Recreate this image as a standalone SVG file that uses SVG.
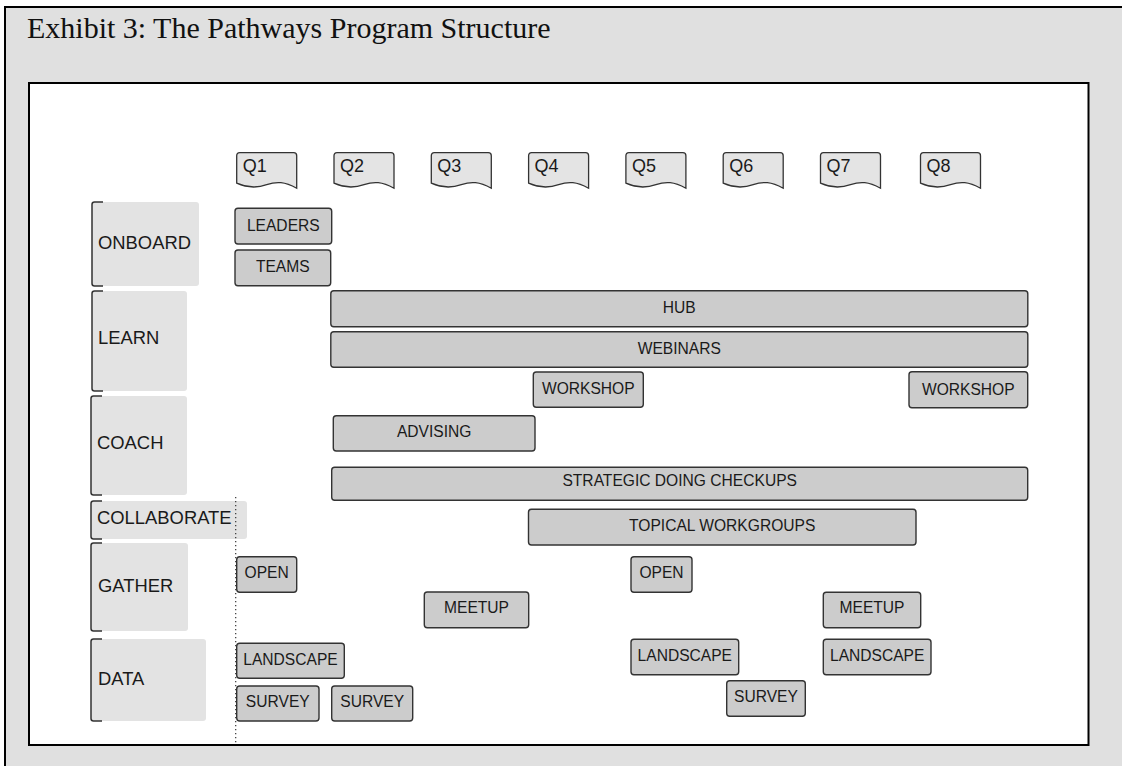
<svg xmlns="http://www.w3.org/2000/svg" width="1122" height="766" viewBox="0 0 1122 766">
<defs>
<style>
.title{font-family:"Liberation Serif","Times New Roman",serif;font-size:30px;fill:#111}
.row rect{fill:#e3e3e3}
.row path{fill:none;stroke:#333;stroke-width:1.5}
.row text{font-family:"Liberation Sans",Arial,sans-serif;font-size:18.4px;fill:#1a1a1a}
.q use{fill:#e4e4e4;stroke:#333;stroke-width:1.3}
.q text{font-family:"Liberation Sans",Arial,sans-serif;font-size:18px;fill:#1a1a1a}
.task rect{fill:#cccccc;stroke:#333;stroke-width:1.4}
.task text{font-family:"Liberation Sans",Arial,sans-serif;font-size:15.6px;fill:#1a1a1a;text-anchor:middle}
</style>
<path id="doc" d="M0 3 Q0 0 3 0 H57 Q60 0 60 3 V35.5 C48 29 40 28.5 30 32 C20 35.5 10 35 0 30.5 Z"/>
</defs>
<rect x="5" y="7" width="1130" height="780" fill="#e0e0e0" stroke="#000" stroke-width="2"/>
<text class="title" x="27" y="37.5">Exhibit 3: The Pathways Program Structure</text>
<rect x="29" y="83" width="1059.5" height="662" fill="#fff" stroke="#000" stroke-width="2"/>

<g id="quarters">
<g id="q1" class="q"><use href="#doc" x="236.7" y="152.7"/><text x="242.7" y="172">Q1</text></g>
<g id="q2" class="q"><use href="#doc" x="334" y="152.7"/><text x="340" y="172">Q2</text></g>
<g id="q3" class="q"><use href="#doc" x="431.3" y="152.7"/><text x="437.3" y="172">Q3</text></g>
<g id="q4" class="q"><use href="#doc" x="528.6" y="152.7"/><text x="534.6" y="172">Q4</text></g>
<g id="q5" class="q"><use href="#doc" x="625.9" y="152.7"/><text x="631.9" y="172">Q5</text></g>
<g id="q6" class="q"><use href="#doc" x="723.2" y="152.7"/><text x="729.2" y="172">Q6</text></g>
<g id="q7" class="q"><use href="#doc" x="820.5" y="152.7"/><text x="826.5" y="172">Q7</text></g>
<g id="q8" class="q"><use href="#doc" x="920.5" y="152.7"/><text x="926.5" y="172">Q8</text></g>
</g>

<g id="rows">
<g id="onboard" class="row"><rect x="92" y="202" width="107" height="84" rx="3"/><path d="M103 202 H94.5 Q92 202 92 204.5 V283.5 Q92 286 94.5 286 H103"/><text x="98" y="249">ONBOARD</text></g>
<g id="learn" class="row"><rect x="92" y="291" width="95" height="100" rx="3"/><path d="M103 291 H94.5 Q92 291 92 293.5 V388.5 Q92 391 94.5 391 H103"/><text x="98" y="343.5">LEARN</text></g>
<g id="coach" class="row"><rect x="91" y="396" width="96" height="99" rx="3"/><path d="M102 396 H93.5 Q91 396 91 398.5 V492.5 Q91 495 93.5 495 H102"/><text x="97" y="449">COACH</text></g>
<g id="collaborate" class="row"><rect x="91" y="501" width="156" height="38" rx="3"/><path d="M102 501 H93.5 Q91 501 91 503.5 V536.5 Q91 539 93.5 539 H102"/><text x="97" y="524">COLLABORATE</text></g>
<g id="gather" class="row"><rect x="91" y="543" width="97" height="88" rx="3"/><path d="M102 543 H93.5 Q91 543 91 545.5 V628.5 Q91 631 93.5 631 H102"/><text x="98" y="592">GATHER</text></g>
<g id="data" class="row"><rect x="91" y="639" width="115" height="82" rx="3"/><path d="M102 639 H93.5 Q91 639 91 641.5 V718.5 Q91 721 93.5 721 H102"/><text x="98" y="685">DATA</text></g>
</g>

<g id="connectors">
<line x1="235.7" y1="497" x2="235.7" y2="744" stroke="#333" stroke-width="1.2" stroke-dasharray="1.2 2.8"/>
</g>

<g id="tasks">
<g id="leaders" class="task"><rect x="235" y="208.3" width="96.7" height="35.7" rx="3"/><text x="283.3" y="230.7">LEADERS</text></g>
<g id="teams" class="task"><rect x="235" y="250" width="95.7" height="35.7" rx="3"/><text x="282.8" y="272">TEAMS</text></g>
<g id="hub" class="task"><rect x="330.8" y="290.7" width="697" height="36" rx="3"/><text x="679.3" y="312.5">HUB</text></g>
<g id="webinars" class="task"><rect x="330.8" y="331.7" width="697" height="35.6" rx="3"/><text x="679.3" y="353.8">WEBINARS</text></g>
<g id="workshop1" class="task"><rect x="533.3" y="372" width="110" height="35.3" rx="3"/><text x="588.3" y="393.5">WORKSHOP</text></g>
<g id="workshop2" class="task"><rect x="909" y="371.7" width="118.7" height="36" rx="3"/><text x="968.3" y="394.5">WORKSHOP</text></g>
<g id="advising" class="task"><rect x="333.3" y="415.7" width="201.7" height="35.3" rx="3"/><text x="434.2" y="436.7">ADVISING</text></g>
<g id="strategic" class="task"><rect x="331.7" y="467.3" width="696" height="33" rx="3"/><text x="679.7" y="486">STRATEGIC DOING CHECKUPS</text></g>
<g id="topical" class="task"><rect x="528.5" y="509.3" width="387.5" height="35.7" rx="3"/><text x="722.2" y="530.7">TOPICAL WORKGROUPS</text></g>
<g id="open1" class="task"><rect x="236.7" y="556.7" width="60" height="35.6" rx="3"/><text x="266.7" y="578.3">OPEN</text></g>
<g id="open2" class="task"><rect x="631" y="556.7" width="61" height="35.6" rx="3"/><text x="661.5" y="578.3">OPEN</text></g>
<g id="meetup1" class="task"><rect x="424.3" y="592" width="104.4" height="35.7" rx="3"/><text x="476.5" y="613.3">MEETUP</text></g>
<g id="meetup2" class="task"><rect x="823.3" y="592.3" width="97.4" height="35.4" rx="3"/><text x="872" y="613.3">MEETUP</text></g>
<g id="landscape1" class="task"><rect x="236.7" y="643.3" width="107.6" height="35" rx="3"/><text x="290.5" y="665">LANDSCAPE</text></g>
<g id="landscape2" class="task"><rect x="631" y="639.3" width="107.7" height="35.4" rx="3"/><text x="684.8" y="661">LANDSCAPE</text></g>
<g id="landscape3" class="task"><rect x="823.3" y="639.3" width="107.7" height="35.4" rx="3"/><text x="877.2" y="661">LANDSCAPE</text></g>
<g id="survey1" class="task"><rect x="236.7" y="686" width="82.3" height="35" rx="3"/><text x="277.8" y="707">SURVEY</text></g>
<g id="survey2" class="task"><rect x="331.7" y="686" width="81" height="35" rx="3"/><text x="372.2" y="707">SURVEY</text></g>
<g id="survey3" class="task"><rect x="726.7" y="680.7" width="78.6" height="35.6" rx="3"/><text x="766" y="702.3">SURVEY</text></g>
</g>
</svg>
